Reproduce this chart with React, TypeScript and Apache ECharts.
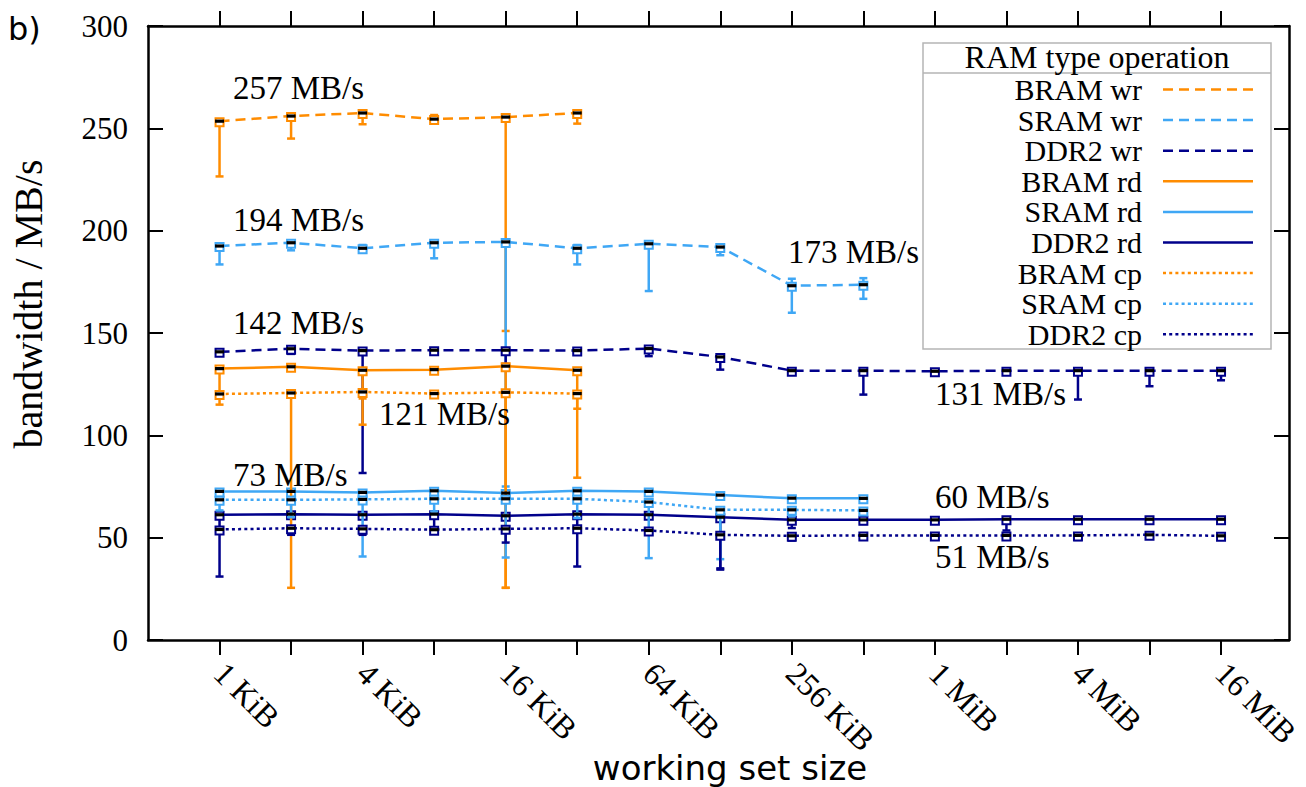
import React, { useEffect, useRef } from "react";
import * as echarts from "echarts";

// x positions: index 0..14 = 1 KiB .. 16 MiB (powers of two)
const sizeLabels = [
  "1 KiB", "", "4 KiB", "", "16 KiB", "", "64 KiB", "", "256 KiB", "", "1 MiB", "", "4 MiB", "", "16 MiB",
];
const yMin = 0;
const yMax = 300;
const yStep = 50;

// BRAM write
const bramWr = [253.5, 256.0, 257.5, 254.5, 255.5, 257.5];
const bramWrLo = [226.5, 245.0, 252.0, 254.0, 151.0, 252.3];
const bramWrHi = [253.7, 256.2, 257.7, 256.5, 256.5, 257.7];
// SRAM write
const sramWr = [192.5, 194.1, 191.4, 194.1, 194.5, 191.4, 193.6, 192.0, 173.1, 173.6];
const sramWrLo = [183.5, 190.4, 191.0, 186.5, 75.0, 183.5, 170.5, 188.0, 159.9, 166.7];
const sramWrHi = [192.7, 194.3, 193.0, 194.3, 194.7, 193.0, 194.0, 192.3, 176.5, 176.8];
// DDR2 write
const ddrWr = [140.8, 142.3, 141.4, 141.6, 141.6, 141.4, 142.4, 138.3, 131.6, 131.6, 131.3, 131.6, 131.6, 131.6, 131.6];
const ddrWrLo = [140.0, 139.8, 81.6, 141.0, 134.9, 141.0, 138.7, 132.1, 130.8, 119.9, 130.0, 131.0, 117.5, 124.0, 126.9];
const ddrWrHi = [141.1, 142.5, 141.6, 141.8, 141.8, 141.6, 142.6, 139.5, 131.8, 131.8, 131.6, 131.8, 131.8, 131.8, 131.8];
// BRAM read
const bramRd = [132.6, 133.5, 131.8, 132.1, 133.8, 131.8];
const bramRdLo = [119.0, 131.6, 105.2, 132.0, 25.5, 79.3];
const bramRdHi = [132.8, 133.7, 132.0, 132.5, 134.0, 132.0];
// SRAM read
const sramRd = [72.6, 72.6, 72.1, 72.9, 71.8, 72.9, 72.6, 70.8, 69.3, 69.2];
const sramRdLo = [68.0, 68.0, 70.5, 72.5, 70.5, 72.5, 72.3, 70.0, 68.5, 68.8];
const sramRdHi = [72.8, 72.8, 72.4, 73.1, 72.1, 73.1, 72.8, 71.0, 69.5, 69.4];
// DDR2 read
const ddrRd = [61.2, 61.5, 61.2, 61.5, 60.7, 61.5, 61.2, 60.0, 58.7, 58.7, 58.7, 59.0, 59.0, 59.0, 59.0];
const ddrRdLo = [31.0, 61.0, 61.0, 53.8, 60.3, 35.9, 61.0, 34.4, 54.7, 56.7, 57.2, 53.5, 57.5, 58.3, 58.7];
const ddrRdHi = [61.4, 61.7, 61.4, 61.7, 60.9, 61.7, 61.4, 60.2, 60.0, 60.0, 59.8, 59.2, 59.2, 59.5, 59.2];
// BRAM copy
const bramCp = [120.2, 120.7, 121.2, 120.4, 121.0, 120.4];
const bramCpLo = [115.0, 25.5, 118.0, 119.5, 25.5, 113.0];
const bramCpHi = [120.4, 120.9, 121.4, 120.6, 121.2, 120.6];
// SRAM copy
const sramCp = [68.5, 68.5, 68.7, 69.0, 69.0, 69.0, 67.4, 63.6, 63.6, 63.3];
const sramCpLo = [63.3, 60.0, 40.8, 62.8, 40.3, 59.6, 40.0, 39.5, 60.5, 62.0];
const sramCpHi = [68.8, 68.8, 69.0, 69.3, 69.3, 69.3, 67.6, 63.8, 63.9, 63.6];
// DDR2 copy
const ddrCp = [54.0, 54.6, 54.3, 53.9, 54.3, 54.6, 53.5, 51.4, 50.9, 51.1, 51.1, 51.1, 51.1, 51.4, 50.9];
const ddrCpLo = [53.8, 51.4, 51.4, 53.7, 47.6, 54.4, 53.3, 35.0, 48.6, 50.9, 50.9, 50.9, 48.9, 51.2, 50.7];
const ddrCpHi = [54.2, 54.8, 54.5, 54.1, 54.5, 54.8, 53.7, 51.6, 51.1, 51.3, 51.3, 51.3, 51.3, 51.6, 51.1];

const annotations = [
  { text: "257 MB/s", x: 233, y: 88 },
  { text: "194 MB/s", x: 233, y: 220 },
  { text: "173 MB/s", x: 788, y: 252 },
  { text: "142 MB/s", x: 233, y: 323 },
  { text: "121 MB/s", x: 379, y: 414 },
  { text: "131 MB/s", x: 935, y: 394 },
  { text: "73 MB/s", x: 233, y: 475 },
  { text: "60 MB/s", x: 935, y: 497 },
  { text: "51 MB/s", x: 935, y: 557 },
];

const ORANGE = "#FF8C00";
const LIGHT = "#3FA7F5";
const NAVY = "#00008B";
const DASH = [10, 6];
const DOT = [3, 3.2];

const seriesDefs = [
  { name: "BRAM wr", color: ORANGE, dash: DASH, val: bramWr, lo: bramWrLo, hi: bramWrHi },
  { name: "SRAM wr", color: LIGHT, dash: DASH, val: sramWr, lo: sramWrLo, hi: sramWrHi },
  { name: "DDR2 wr", color: NAVY, dash: DASH, val: ddrWr, lo: ddrWrLo, hi: ddrWrHi },
  { name: "BRAM rd", color: ORANGE, dash: null, val: bramRd, lo: bramRdLo, hi: bramRdHi },
  { name: "SRAM rd", color: LIGHT, dash: null, val: sramRd, lo: sramRdLo, hi: sramRdHi },
  { name: "DDR2 rd", color: NAVY, dash: null, val: ddrRd, lo: ddrRdLo, hi: ddrRdHi },
  { name: "BRAM cp", color: ORANGE, dash: DOT, val: bramCp, lo: bramCpLo, hi: bramCpHi },
  { name: "SRAM cp", color: LIGHT, dash: DOT, val: sramCp, lo: sramCpLo, hi: sramCpHi },
  { name: "DDR2 cp", color: NAVY, dash: DOT, val: ddrCp, lo: ddrCpLo, hi: ddrCpHi },
];

const SERIF = '"Liberation Serif", "Times New Roman", serif';
const SANS = '"DejaVu Sans", sans-serif';
const tickIdx = sizeLabels.map((_, i) => i);
const labelIdx = sizeLabels.map((s, i) => (s ? i : -1)).filter((i) => i >= 0);

function buildOption() {
  const lineSeries = seriesDefs.map((d) => ({
    type: "line",
    name: d.name,
    data: d.val.map((v, i) => [i, v]),
    symbol: "none",
    lineStyle: { color: d.color, width: 2.5, type: d.dash ? d.dash : "solid" },
    z: 2,
  }));

  const errSeries = seriesDefs.map((d) => ({
    type: "custom",
    name: d.name + " err",
    data: d.val.map((v, i) => [i, v, d.lo[i], d.hi[i]]),
    encode: { x: 0, y: [1, 2, 3] },
    z: 3,
    renderItem: (params: any, api: any) => {
      const x = api.value(0);
      const pV = api.coord([x, api.value(1)]);
      const pLo = api.coord([x, api.value(2)]);
      const pHi = api.coord([x, api.value(3)]);
      const children: any[] = [];
      if (Math.abs(pLo[1] - pHi[1]) > 1.5) {
        children.push({
          type: "line",
          shape: { x1: pV[0], y1: pHi[1], x2: pV[0], y2: pLo[1] },
          style: { stroke: d.color, lineWidth: 2.5 },
        });
        children.push({
          type: "line",
          shape: { x1: pV[0] - 4, y1: pLo[1], x2: pV[0] + 4, y2: pLo[1] },
          style: { stroke: d.color, lineWidth: 2.5 },
        });
        children.push({
          type: "line",
          shape: { x1: pV[0] - 4, y1: pHi[1], x2: pV[0] + 4, y2: pHi[1] },
          style: { stroke: d.color, lineWidth: 2.5 },
        });
      }
      children.push({
        type: "rect",
        shape: { x: pV[0] - 4, y: pV[1] - 3, width: 8, height: 8 },
        style: { fill: "#fff", stroke: d.color, lineWidth: 2 },
      });
      return { type: "group", children };
    },
  }));

  const markSeries = seriesDefs.map((d) => ({
    type: "custom",
    name: d.name + " mark",
    data: d.val.map((v, i) => [i, v]),
    encode: { x: 0, y: 1 },
    z: 4,
    renderItem: (params: any, api: any) => {
      const p = api.coord([api.value(0), api.value(1)]);
      return {
        type: "rect",
        shape: { x: p[0] - 4.5, y: p[1] - 1.6, width: 9, height: 3.2 },
        style: { fill: "#000" },
      };
    },
  }));

  const legendTop = 89.5;
  const legendStep = 30.6;
  const legendFont = `30px ${SERIF}`;
  const legendChildren: any[] = [
    {
      type: "rect",
      shape: { x: 923, y: 43, width: 348, height: 306 },
      style: { fill: "#fff", stroke: "#b5b5b5", lineWidth: 1.5 },
    },
    {
      type: "line",
      shape: { x1: 923, y1: 73, x2: 1271, y2: 73 },
      style: { stroke: "#b5b5b5", lineWidth: 1.5 },
    },
    {
      type: "text",
      x: 1097,
      y: 57,
      style: { text: "RAM type operation", font: `32px ${SERIF}`, fill: "#000", align: "center", verticalAlign: "middle" },
    },
  ];
  seriesDefs.forEach((d, k) => {
    const y = legendTop + k * legendStep;
    legendChildren.push({
      type: "text",
      x: 1142,
      y,
      style: { text: d.name, font: legendFont, fill: "#000", align: "right", verticalAlign: "middle" },
    });
    legendChildren.push({
      type: "line",
      shape: { x1: 1163, y1: y, x2: 1253, y2: y },
      style: { stroke: d.color, lineWidth: 2.5, lineDash: d.dash ? d.dash : null },
    });
  });

  const graphic: any[] = [
    { type: "group", z: 100, children: legendChildren },
    ...annotations.map((a) => ({
      type: "text",
      x: a.x,
      y: a.y,
      z: 50,
      style: { text: a.text, font: `33px ${SERIF}`, fill: "#000", align: "left", verticalAlign: "middle" },
    })),
    {
      type: "text",
      x: 28,
      y: 304,
      rotation: Math.PI / 2,
      style: { text: "bandwidth / MB/s", font: `40px ${SERIF}`, fill: "#000", align: "center", verticalAlign: "middle" },
    },
    {
      type: "text",
      x: 730,
      y: 768,
      style: { text: "working set size", font: `34px ${SANS}`, fill: "#000", align: "center", verticalAlign: "middle" },
    },
    {
      type: "text",
      x: 8,
      y: 29,
      style: { text: "b)", font: `32px ${SANS}`, fill: "#000", align: "left", verticalAlign: "middle" },
    },
  ];

  const axisLine = { show: true, onZero: false, lineStyle: { color: "#000", width: 2.5 } };
  const xTick = { show: true, inside: false, length: 15, lineStyle: { color: "#000", width: 2 }, customValues: tickIdx };
  const yTick = { show: true, inside: true, length: 15, lineStyle: { color: "#000", width: 2 } };

  return {
    animation: false,
    backgroundColor: "#fff",
    grid: { left: 148, top: 26, width: 1141, height: 614, containLabel: false },
    xAxis: [
      {
        type: "value",
        position: "bottom",
        min: -1,
        max: 14.95,
        axisLine,
        axisTick: xTick,
        splitLine: { show: false },
        axisLabel: {
          show: true,
          customValues: labelIdx,
          formatter: (v: number) => sizeLabels[Math.round(v)] || "",
          rotate: -45,
          margin: 28,
          color: "#000",
          fontFamily: SERIF,
          fontSize: 32,
        },
      },
      {
        type: "value",
        position: "top",
        min: -1,
        max: 14.95,
        axisLine,
        axisTick: xTick,
        splitLine: { show: false },
        axisLabel: { show: false },
      },
    ],
    yAxis: [
      {
        type: "value",
        position: "left",
        min: yMin,
        max: yMax,
        interval: yStep,
        axisLine,
        axisTick: yTick,
        splitLine: { show: false },
        axisLabel: { show: true, margin: 20, color: "#000", fontFamily: SERIF, fontSize: 31 },
      },
      {
        type: "value",
        position: "right",
        min: yMin,
        max: yMax,
        interval: yStep,
        axisLine,
        axisTick: yTick,
        splitLine: { show: false },
        axisLabel: { show: false },
      },
    ],
    series: [...lineSeries, ...errSeries, ...markSeries],
    graphic,
  };
}

export default function App() {
  const ref = useRef<HTMLDivElement>(null);
  useEffect(() => {
    if (!ref.current) return;
    const chart = echarts.init(ref.current, null, { renderer: "svg" });
    chart.setOption(buildOption() as any);
    return () => chart.dispose();
  }, []);
  return (
    <div
      ref={ref}
      style={{ position: "absolute", left: 0, top: 0, width: 1306, height: 787, background: "#fff" }}
    />
  );
}
